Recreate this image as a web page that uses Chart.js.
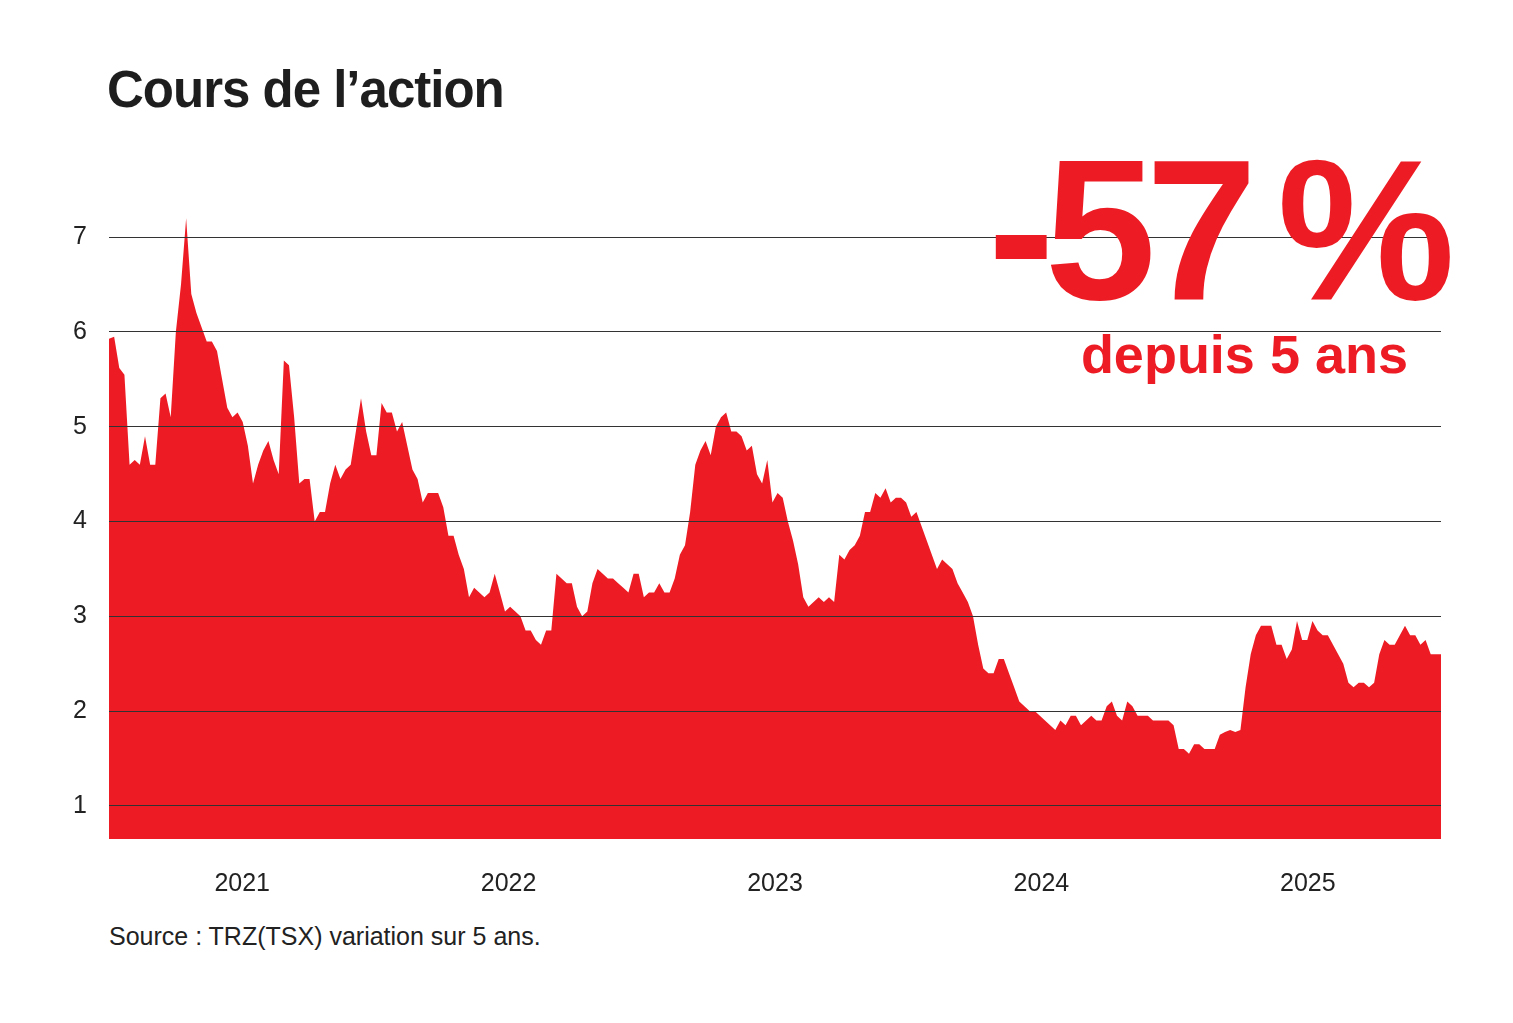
<!DOCTYPE html>
<html><head><meta charset="utf-8">
<script src="https://cdn.jsdelivr.net/npm/chart.js@4/dist/chart.umd.min.js"></script>
<style>
body{margin:0;background:#fff;width:1513px;height:1023px;position:relative;overflow:hidden;font-family:"Liberation Sans",Arial,sans-serif}
#t{position:absolute;left:107px;top:60px;font-size:51px;font-weight:bold;color:#1e1e1e;letter-spacing:-1px}
#big{position:absolute;right:68px;top:130px;font-size:200px;font-weight:bold;color:#ED1C24;letter-spacing:-10px;line-height:1}
#sub{position:absolute;right:105px;top:323px;font-size:54px;font-weight:bold;color:#ED1C24}
#src{position:absolute;left:109px;top:922px;font-size:25px;color:#222}
#wrap{position:absolute;left:60px;top:150px;width:1381px;height:749px}
</style></head><body>
<div id="t">Cours de l’action</div>
<div id="wrap"><canvas id="c"></canvas></div>
<div id="big">-57&#8201;%</div>
<div id="sub">depuis 5 ans</div>
<div id="src">Source : TRZ(TSX) variation sur 5 ans.</div>
<script>
const startYear = 2020.5, endYear = 2025.5;
const yearTicks = [2021, 2022, 2023, 2024, 2025];
const valueTicks = [1, 2, 3, 4, 5, 6, 7];
const prices = [5.93,5.95,5.62,5.55,4.6,4.65,4.6,4.9,4.6,4.6,5.3,5.35,5.1,6.0,6.5,7.2,6.4,6.2,6.05,5.9,5.9,5.8,5.5,5.2,5.1,5.15,5.05,4.8,4.4,4.6,4.75,4.85,4.65,4.5,5.7,5.65,5.1,4.4,4.45,4.45,4.0,4.1,4.1,4.4,4.6,4.45,4.55,4.6,4.95,5.3,4.95,4.7,4.7,5.25,5.15,5.15,4.95,5.05,4.8,4.55,4.45,4.2,4.3,4.3,4.3,4.15,3.85,3.85,3.65,3.5,3.2,3.3,3.25,3.2,3.25,3.45,3.25,3.05,3.1,3.05,3.0,2.85,2.85,2.75,2.7,2.85,2.85,3.45,3.4,3.35,3.35,3.1,3.0,3.05,3.35,3.5,3.45,3.4,3.4,3.35,3.3,3.25,3.45,3.45,3.2,3.25,3.25,3.35,3.25,3.25,3.4,3.65,3.75,4.1,4.6,4.75,4.85,4.7,5.0,5.1,5.15,4.95,4.95,4.9,4.75,4.8,4.5,4.4,4.65,4.2,4.3,4.25,4.0,3.8,3.55,3.2,3.1,3.15,3.2,3.15,3.2,3.15,3.65,3.6,3.7,3.75,3.85,4.1,4.1,4.3,4.25,4.35,4.2,4.25,4.25,4.2,4.05,4.1,3.95,3.8,3.65,3.5,3.6,3.55,3.5,3.35,3.25,3.15,3.0,2.7,2.45,2.4,2.4,2.55,2.55,2.4,2.25,2.1,2.05,2.0,2.0,1.95,1.9,1.85,1.8,1.9,1.85,1.95,1.95,1.85,1.9,1.95,1.9,1.9,2.05,2.1,1.95,1.9,2.1,2.05,1.95,1.95,1.95,1.9,1.9,1.9,1.9,1.85,1.6,1.6,1.55,1.65,1.65,1.6,1.6,1.6,1.75,1.78,1.8,1.78,1.8,2.25,2.6,2.8,2.9,2.9,2.9,2.7,2.7,2.55,2.65,2.95,2.75,2.75,2.95,2.85,2.8,2.8,2.7,2.6,2.5,2.3,2.25,2.3,2.3,2.25,2.3,2.6,2.75,2.7,2.7,2.8,2.9,2.8,2.8,2.7,2.75,2.6,2.6,2.6];
const pts = prices.map((v,i)=>({x:startYear+(endYear-startYear)*i/(prices.length-1),y:v}));
const tickFont={family:"Liberation Sans, Arial, sans-serif",size:25};
new Chart(document.getElementById('c'),{
 type:'line',
 data:{datasets:[{data:pts,borderWidth:0,borderColor:'#ED1C24',backgroundColor:'#ED1C24',fill:'start',pointRadius:0,tension:0}]},
 options:{responsive:true,maintainAspectRatio:false,animation:false,
  layout:{padding:0},
  plugins:{legend:{display:false},tooltip:{enabled:false}},
  scales:{
   x:{type:'linear',min:startYear,max:endYear,
      afterBuildTicks:s=>{s.ticks=yearTicks.map(v=>({value:v}));},
      afterFit:s=>{s.height=60;},
      grid:{display:false},border:{display:false},
      ticks:{color:'#222',font:tickFont,padding:22,maxRotation:0,callback:v=>String(v)}},
   y:{type:'linear',min:0.65,max:7.53,
      afterBuildTicks:s=>{s.ticks=valueTicks.map(v=>({value:v}));},
      afterFit:s=>{s.width=49;},
      grid:{color:'#333',lineWidth:1,z:1,drawTicks:false},border:{display:false},
      ticks:{color:'#222',font:tickFont,padding:22,callback:v=>String(v)}}
  }}
});
</script>
</body></html>
